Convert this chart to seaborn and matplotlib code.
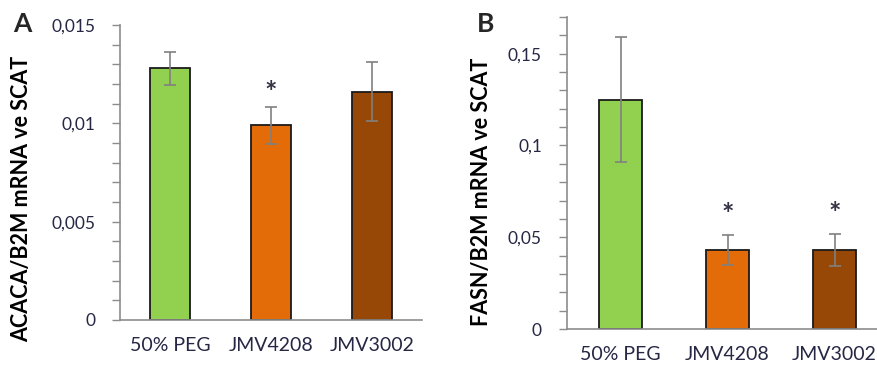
import matplotlib
matplotlib.use('Agg')
import pandas as pd
import matplotlib.pyplot as plt
import matplotlib.ticker as ticker
import seaborn as sns

# === DONNÉES ===
groupes = ["50% PEG", "JMV4208", "JMV3002"]
acaca_moy = [0.0128, 0.0099, 0.0116]
acaca_err = [0.00085, 0.00094, 0.0015]
acaca_sig = [False, True, False]
fasn_moy = [0.125, 0.043, 0.043]
fasn_err = [0.034, 0.0083, 0.0086]
fasn_sig = [False, True, True]

palette = {"50% PEG": "#92D050", "JMV4208": "#E36C09", "JMV3002": "#974806"}
GRIS_AXE = "#8C8C8C"
TEXTE = "#262645"

sns.set_theme(style="white")
plt.rcParams['font.family'] = ['Lato', 'DejaVu Sans']

fig = plt.figure(figsize=(8.77, 3.68), dpi=100)
ax_a = fig.add_axes([120 / 877, 48 / 368, 302 / 877, 295 / 368])
ax_b = fig.add_axes([567 / 877, 39 / 368, 321 / 877, 312 / 368])


def panneau(ax, moy, err, sig, ymax, majeur, mineur, ylabel, fmt, decal_etoile):
    df = pd.DataFrame({"groupe": groupes, "valeur": moy})
    sns.barplot(data=df, x="groupe", y="valeur", hue="groupe", palette=palette,
                width=0.4, edgecolor="#1a1a1a", linewidth=1.3, errorbar=None,
                legend=False, ax=ax, saturation=1)
    ax.errorbar(range(len(groupes)), moy, yerr=err, fmt="none", ecolor="#808080",
                elinewidth=1.2, capsize=4.3, capthick=1.2)
    for i, s in enumerate(sig):
        if s:
            ax.text(i, moy[i] + err[i] + decal_etoile, "*", ha="center", va="center",
                    fontsize=21, fontweight="bold", color="#333344")
    ax.set_xlim(-0.5, 2.5)
    ax.set_ylim(0, ymax)
    ax.yaxis.set_major_locator(ticker.MultipleLocator(majeur))
    ax.yaxis.set_minor_locator(ticker.MultipleLocator(mineur))
    ax.yaxis.set_major_formatter(ticker.FuncFormatter(lambda v, p: fmt(v)))
    ax.set_xticks([-0.5, 0.5, 1.5, 2.5], minor=False)
    ax.set_xticklabels([])
    ax.set_xticks([0, 1, 2], minor=True)
    ax.set_xticklabels(groupes, minor=True)
    ax.tick_params(axis="x", which="major", direction="out", length=6, width=1,
                   color=GRIS_AXE)
    ax.tick_params(axis="x", which="minor", length=0, pad=12, labelsize=14,
                   labelcolor=TEXTE)
    ax.tick_params(axis="y", which="both", direction="out", length=6, width=1,
                   color=GRIS_AXE, labelsize=12.5, labelcolor=TEXTE, pad=12, left=True)
    for cote in ["top", "right"]:
        ax.spines[cote].set_visible(False)
    for cote in ["left", "bottom"]:
        ax.spines[cote].set_color(GRIS_AXE)
        ax.spines[cote].set_linewidth(1.2)
    ax.set_xlabel("")
    ax.set_ylabel(ylabel, fontsize=15.5, fontweight="bold", color="black")


def virgule(v, dec):
    if abs(v) < 1e-12:
        return "0"
    return f"{v:.{dec}f}".rstrip("0").replace(".", ",")


panneau(ax_a, acaca_moy, acaca_err, acaca_sig, 0.015, 0.005, 0.001,
        "ACACA/B2M mRNA ve SCAT", lambda v: virgule(v, 3), 0.0007)
panneau(ax_b, fasn_moy, fasn_err, fasn_sig, 0.17, 0.05, 0.01,
        "FASN/B2M mRNA ve SCAT", lambda v: virgule(v, 2), 0.011)

ax_a.yaxis.set_label_coords(-0.29, 0.41)
ax_b.yaxis.set_label_coords(-0.235, 0.44)

fig.text(13 / 877, 1 - 24 / 368, "A", fontsize=19, fontweight="bold", va="center")
fig.text(477 / 877, 1 - 24 / 368, "B", fontsize=19, fontweight="bold", va="center")

fig.savefig("out.png", dpi=100)
